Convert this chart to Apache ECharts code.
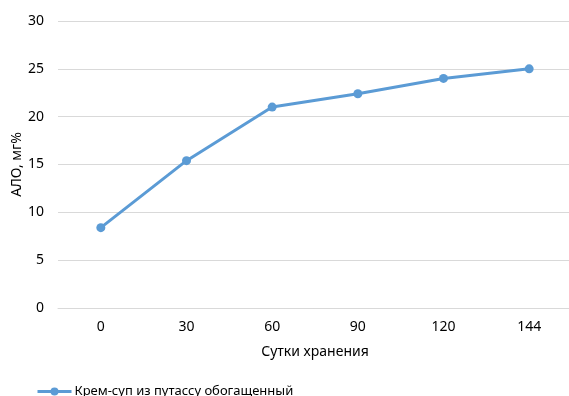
<!DOCTYPE html>
<html><head><meta charset="utf-8">
<script src="https://cdn.jsdelivr.net/npm/echarts@6/dist/echarts.min.js"></script>
<style>html,body{margin:0;padding:0;background:#fff}#c{width:569px;height:396px}</style>
</head><body><div id="c"></div>
<script>
const categories = ['0','30','60','90','120','144'];
const values = [8.4, 15.4, 21.0, 22.4, 24.0, 25.0];
const seriesName = 'Крем-суп из путассу обогащенный';
const font = 'Noto Sans';
const chart = echarts.init(document.getElementById('c'));
chart.setOption({
  animation: false,
  grid: {left: 58, top: 21, right: -3, height: 287, outerBoundsMode: 'none', containLabel: false},
  legend: {left: 31, top: 380, itemWidth: 34, itemHeight: 10, itemGap: 4,
    lineStyle: {width: 3},
    textStyle: {fontFamily: font, fontSize: 13, color: '#000', padding: [0,0,0,-2]},
    data: [{name: seriesName}]},
  xAxis: {type: 'category', data: categories, boundaryGap: true,
    name: 'Сутки хранения', nameLocation: 'middle', nameGap: 37, nameMoveOverlap: false,
    nameTextStyle: {fontFamily: font, fontSize: 14, color: '#000'},
    axisLine: {show: true, lineStyle: {color: '#d9d9d9'}}, axisTick: {show: false},
    axisLabel: {fontFamily: font, fontSize: 14, color: '#000', margin: 12}},
  yAxis: {type: 'value', min: 0, max: 30, interval: 5,
    name: 'АЛО, мг%', nameLocation: 'middle', nameGap: 34, nameMoveOverlap: false,
    nameTextStyle: {fontFamily: font, fontSize: 14, color: '#000'},
    axisLine: {show: false}, axisTick: {show: false},
    axisLabel: {fontFamily: font, fontSize: 14, color: '#000', margin: 14},
    splitLine: {lineStyle: {color: '#d9d9d9'}}},
  series: [{name: seriesName, type: 'line', data: values,
    symbol: 'circle', symbolSize: 9,
    lineStyle: {color: '#5B9BD5', width: 3},
    itemStyle: {color: '#5B9BD5'}}]
});
</script></body></html>
